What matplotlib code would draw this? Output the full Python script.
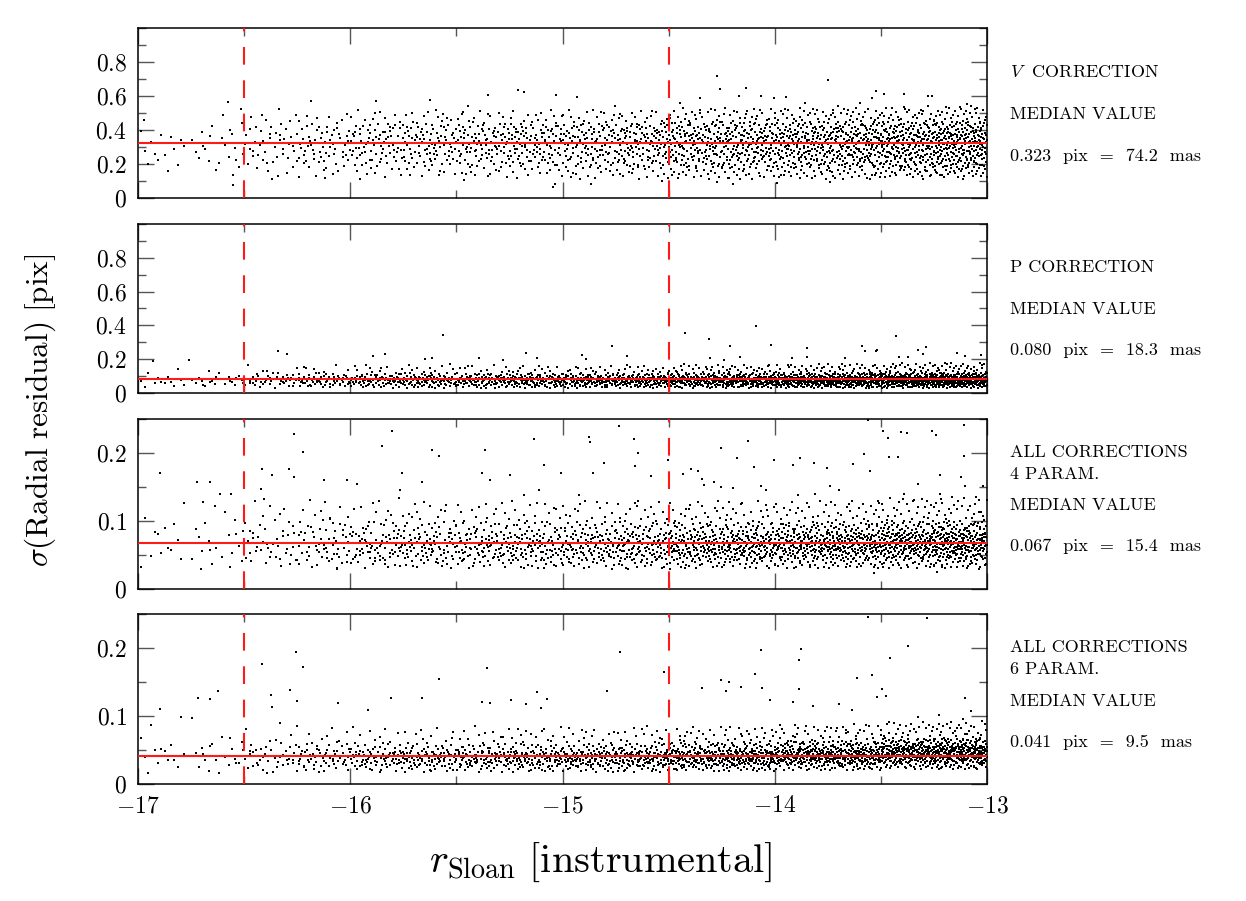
import numpy as np
import matplotlib
matplotlib.use('Agg')
import matplotlib.pyplot as plt
from matplotlib.ticker import MultipleLocator, FixedLocator, FuncFormatter

plt.rcParams['mathtext.fontset'] = 'cm'
plt.rcParams['font.family'] = ['cmr10', 'DejaVu Serif']
plt.rcParams['axes.formatter.use_mathtext'] = True

# ---- data ----
# the same stars appear in all four panels; 0.25 mag bins from -17 to -13
bin_left = [-17.0, -16.75, -16.5, -16.25, -16.0, -15.75, -15.5, -15.25,
            -15.0, -14.75, -14.5, -14.25, -14.0, -13.75, -13.5, -13.25]
star_counts = [14, 22, 45, 70, 90, 105, 115, 125, 135, 150, 185, 200, 215, 235, 260, 290]

# spread of the dense band, per 0.5 mag bin, at these fractions of the stars
q_levels = [0.0, 0.1, 0.25, 0.5, 0.75, 0.9, 1.0]

v_band = [[0.14, 0.19, 0.23, 0.29, 0.35, 0.40, 0.46],
          [0.12, 0.19, 0.24, 0.31, 0.38, 0.43, 0.50],
          [0.12, 0.19, 0.25, 0.32, 0.39, 0.44, 0.52],
          [0.12, 0.19, 0.25, 0.32, 0.39, 0.44, 0.52],
          [0.11, 0.18, 0.24, 0.32, 0.39, 0.44, 0.52],
          [0.11, 0.18, 0.24, 0.32, 0.39, 0.45, 0.53],
          [0.11, 0.18, 0.24, 0.32, 0.39, 0.45, 0.53],
          [0.12, 0.18, 0.24, 0.32, 0.39, 0.45, 0.54]]
p_band = [[0.035, 0.046, 0.058, 0.072, 0.090, 0.110, 0.150],
          [0.032, 0.046, 0.060, 0.077, 0.095, 0.118, 0.170],
          [0.030, 0.045, 0.060, 0.078, 0.095, 0.118, 0.170],
          [0.030, 0.045, 0.060, 0.078, 0.094, 0.115, 0.165],
          [0.030, 0.045, 0.060, 0.078, 0.094, 0.115, 0.165],
          [0.030, 0.045, 0.060, 0.078, 0.095, 0.118, 0.170],
          [0.030, 0.045, 0.060, 0.078, 0.095, 0.118, 0.175],
          [0.030, 0.046, 0.061, 0.079, 0.096, 0.120, 0.180]]
a4_band = [[0.030, 0.042, 0.054, 0.070, 0.090, 0.110, 0.135],
           [0.030, 0.042, 0.053, 0.068, 0.087, 0.105, 0.135],
           [0.030, 0.042, 0.052, 0.066, 0.083, 0.100, 0.130],
           [0.030, 0.042, 0.052, 0.066, 0.082, 0.100, 0.130],
           [0.030, 0.042, 0.052, 0.066, 0.082, 0.100, 0.130],
           [0.030, 0.043, 0.053, 0.066, 0.081, 0.098, 0.130],
           [0.030, 0.044, 0.055, 0.067, 0.081, 0.097, 0.130],
           [0.030, 0.045, 0.056, 0.069, 0.083, 0.100, 0.135]]
a6_band = [[0.015, 0.025, 0.032, 0.042, 0.055, 0.070, 0.100],
           [0.016, 0.025, 0.032, 0.041, 0.051, 0.064, 0.090],
           [0.017, 0.026, 0.032, 0.040, 0.048, 0.060, 0.085],
           [0.017, 0.026, 0.032, 0.040, 0.048, 0.060, 0.085],
           [0.017, 0.026, 0.032, 0.040, 0.048, 0.060, 0.085],
           [0.018, 0.027, 0.033, 0.041, 0.049, 0.061, 0.085],
           [0.020, 0.029, 0.035, 0.043, 0.052, 0.063, 0.088],
           [0.022, 0.031, 0.038, 0.047, 0.056, 0.067, 0.092]]

# isolated stars outside the band (magnitude, sigma)
v_out = [(-14.272, 0.718), (-13.749, 0.694), (-14.260, 0.639), (-14.134, 0.645),
         (-15.209, 0.637), (-15.181, 0.625), (-15.030, 0.606), (-15.351, 0.604),
         (-13.523, 0.629), (-13.389, 0.610), (-13.484, 0.614), (-14.930, 0.594),
         (-14.170, 0.600), (-13.276, 0.600), (-13.258, 0.600), (-13.543, 0.588),
         (-14.352, 0.590), (-14.065, 0.600), (-14.005, 0.590), (-13.946, 0.594),
         (-15.623, 0.578), (-15.877, 0.569), (-16.187, 0.571), (-16.578, 0.563),
         (-15.443, 0.543), (-16.334, 0.525), (-16.513, 0.521), (-16.601, 0.486),
         (-16.418, 0.490), (-16.973, 0.459), (-13.703, 0.541), (-13.094, 0.555),
         (-13.857, 0.557), (-13.600, 0.557), (-14.447, 0.557), (-14.755, 0.539),
         (-16.552, 0.074), (-16.552, 0.135), (-15.045, 0.063), (-15.035, 0.082),
         (-14.868, 0.084), (-13.990, 0.086), (-13.739, 0.096), (-16.370, 0.112),
         (-16.121, 0.116), (-15.954, 0.112), (-15.463, 0.106), (-14.532, 0.100),
         (-13.112, 0.114), (-13.300, 0.110), (-14.270, 0.096), (-14.198, 0.082)]
p_out = [(-15.564, 0.343), (-14.088, 0.397), (-14.421, 0.357), (-14.311, 0.320),
         (-13.431, 0.337), (-14.765, 0.278), (-14.016, 0.284), (-14.211, 0.278),
         (-13.849, 0.268), (-16.339, 0.249), (-16.300, 0.233), (-13.323, 0.255),
         (-13.287, 0.274), (-13.302, 0.229), (-13.574, 0.249), (-13.518, 0.255),
         (-13.143, 0.239), (-13.104, 0.219), (-14.696, 0.219), (-14.909, 0.227),
         (-14.889, 0.199), (-15.171, 0.237), (-15.836, 0.233), (-15.892, 0.217),
         (-14.165, 0.213), (-13.921, 0.205), (-13.849, 0.215), (-13.669, 0.207),
         (-13.413, 0.211), (-13.372, 0.211), (-14.306, 0.209), (-14.237, 0.197),
         (-16.760, 0.195), (-15.615, 0.209), (-15.648, 0.201), (-15.394, 0.207),
         (-15.281, 0.195), (-13.027, 0.227), (-16.929, 0.190), (-15.122, 0.207),
         (-13.587, 0.278), (-13.523, 0.251)]
a4_out = [(-13.561, 0.248), (-13.110, 0.241), (-14.735, 0.239), (-15.802, 0.233),
          (-16.267, 0.228), (-13.489, 0.233), (-13.466, 0.222), (-13.407, 0.231),
          (-13.377, 0.229), (-13.261, 0.232), (-13.241, 0.226), (-15.135, 0.221),
          (-14.873, 0.223), (-14.871, 0.216), (-14.665, 0.221), (-14.124, 0.218),
          (-15.851, 0.210), (-15.615, 0.204), (-15.584, 0.195), (-15.363, 0.205),
          (-14.252, 0.207), (-14.180, 0.192), (-13.579, 0.198), (-13.464, 0.194),
          (-13.420, 0.194), (-13.107, 0.195), (-14.645, 0.200), (-14.503, 0.189),
          (-16.223, 0.202), (-15.089, 0.183), (-14.806, 0.186), (-14.660, 0.181),
          (-14.396, 0.176), (-14.362, 0.174), (-14.434, 0.169), (-14.344, 0.162),
          (-14.332, 0.153), (-14.288, 0.157), (-14.255, 0.150), (-14.195, 0.149),
          (-14.098, 0.179), (-14.005, 0.189), (-13.913, 0.182), (-13.882, 0.193),
          (-13.815, 0.185), (-13.756, 0.178), (-13.810, 0.140), (-13.890, 0.138),
          (-14.041, 0.146), (-14.067, 0.152), (-13.741, 0.151), (-13.697, 0.146),
          (-13.631, 0.184), (-13.551, 0.174), (-13.220, 0.167), (-13.123, 0.165),
          (-13.102, 0.151), (-13.020, 0.152), (-13.053, 0.136), (-13.223, 0.140),
          (-13.325, 0.154), (-13.392, 0.140), (-13.515, 0.130), (-16.898, 0.170),
          (-16.724, 0.158), (-16.662, 0.157), (-16.616, 0.140), (-16.562, 0.140),
          (-16.418, 0.176), (-16.287, 0.176), (-16.267, 0.164), (-16.370, 0.167),
          (-16.421, 0.147), (-16.406, 0.133), (-16.123, 0.160), (-16.013, 0.160),
          (-15.967, 0.154), (-15.754, 0.170), (-15.661, 0.158), (-15.764, 0.146),
          (-15.772, 0.134), (-15.379, 0.171), (-15.340, 0.161), (-15.248, 0.168),
          (-15.181, 0.138), (-15.109, 0.145), (-15.009, 0.170), (-14.924, 0.138),
          (-14.858, 0.171), (-14.642, 0.129), (-14.583, 0.166), (-16.701, 0.029),
          (-13.533, 0.024), (-13.236, 0.025), (-15.086, 0.031), (-14.691, 0.029),
          (-16.064, 0.029)]
a6_out = [(-13.561, 0.246), (-13.284, 0.244), (-13.374, 0.203), (-14.067, 0.197),
          (-13.877, 0.199), (-13.887, 0.182), (-13.459, 0.186), (-14.729, 0.194),
          (-16.257, 0.194), (-16.418, 0.176), (-16.223, 0.172), (-15.358, 0.170),
          (-14.521, 0.165), (-14.093, 0.162), (-13.543, 0.160), (-13.613, 0.156),
          (-15.582, 0.155), (-14.254, 0.153), (-14.216, 0.150), (-14.344, 0.141),
          (-14.229, 0.137), (-14.157, 0.142), (-14.062, 0.141), (-13.887, 0.140),
          (-13.495, 0.140), (-13.518, 0.128), (-13.477, 0.130), (-13.104, 0.127),
          (-14.791, 0.137), (-15.120, 0.135), (-15.099, 0.112), (-15.073, 0.125),
          (-15.171, 0.118), (-15.243, 0.124), (-15.381, 0.121), (-15.340, 0.119),
          (-15.661, 0.126), (-15.808, 0.126), (-16.059, 0.119), (-15.918, 0.109),
          (-16.372, 0.131), (-16.285, 0.138), (-16.624, 0.137), (-16.719, 0.126),
          (-16.662, 0.125), (-16.896, 0.110), (-16.370, 0.113), (-16.249, 0.122),
          (-14.021, 0.123), (-13.916, 0.121), (-13.818, 0.114), (-13.697, 0.118),
          (-13.636, 0.109), (-13.074, 0.107), (-13.112, 0.096), (-13.323, 0.099),
          (-13.225, 0.102)]

medians = [0.323, 0.080, 0.067, 0.041]
panel_labels = [[r'$V\ $ CORRECTION', 'MEDIAN VALUE', '0.323  pix  =  74.2  mas'],
                ['P CORRECTION', 'MEDIAN VALUE', '0.080  pix  =  18.3  mas'],
                ['ALL CORRECTIONS', '4 PARAM.', 'MEDIAN VALUE', '0.067  pix  =  15.4  mas'],
                ['ALL CORRECTIONS', '6 PARAM.', 'MEDIAN VALUE', '0.041  pix  =  9.5  mas']]
label_offsets = [[44, 86, 128], [43, 85, 126], [33, 55, 86, 127], [33, 55, 87, 128]]
ylims = [1.0, 1.0, 0.25, 0.25]
bands = [v_band, p_band, a4_band, a6_band]
outliers = [v_out, p_out, a4_out, a6_out]
cuts = [-16.5, -14.5]


def radical_inverse(k, base):
    r, f = 0.0, 1.0
    while k > 0:
        f /= base
        r += f * (k % base)
        k //= base
    return r


def band_points(band, panel):
    xs, ys = [], []
    for i, (x0, n) in enumerate(zip(bin_left, star_counts)):
        start = 1 + 409 * i
        ux = np.array([radical_inverse(start + m, 2) for m in range(n)])
        uy = np.array([radical_inverse(start + m + 131 * panel, 3) for m in range(n)])
        xs.append(x0 + 0.25 * ux)
        ys.append(np.interp(uy, q_levels, band[i // 2]))
    return np.concatenate(xs), np.concatenate(ys)


fig = plt.figure(figsize=(12.46, 9.01), dpi=100)
# panel rectangles in figure pixels (top, bottom)
rows = [(28, 198), (224, 393), (419, 589), (614, 784)]
W, H = 1246.0, 901.0

for j, (top, bot) in enumerate(rows):
    ax = fig.add_axes([138 / W, 1 - bot / H, (987 - 138) / W, (bot - top) / H])
    bx, by = band_points(bands[j], j)
    ox = [p[0] for p in outliers[j]]
    oy = [p[1] for p in outliers[j]]
    ax.scatter(bx, by, s=2.3, marker='s', c='black', linewidths=0, zorder=2)
    ax.scatter(ox, oy, s=2.3, marker='s', c='black', linewidths=0, zorder=2)
    ax.axhline(medians[j], color='#ff1a1a', lw=1.5, zorder=3)
    for c in cuts:
        ax.axvline(c, color='#ff1a1a', lw=1.5, dashes=(8.5, 7.5), zorder=3)

    ax.set_xlim(-17, -13)
    ax.set_ylim(0, ylims[j])
    ax.xaxis.set_major_locator(MultipleLocator(1))
    ax.xaxis.set_minor_locator(MultipleLocator(0.5))
    if ylims[j] > 0.5:
        ax.yaxis.set_major_locator(FixedLocator([0, 0.2, 0.4, 0.6, 0.8]))
        ax.yaxis.set_minor_locator(MultipleLocator(0.1))
    else:
        ax.yaxis.set_major_locator(FixedLocator([0, 0.1, 0.2]))
        ax.yaxis.set_minor_locator(MultipleLocator(0.05))
    ax.yaxis.set_major_formatter(FuncFormatter(lambda v, p: '$%g$' % round(v, 3)))
    if j == 3:
        ax.xaxis.set_major_formatter(FuncFormatter(lambda v, p: '$%g$' % v))
    else:
        ax.set_xticklabels([])
    ax.tick_params(which='both', direction='in', top=True, right=True,
                   labelsize=17, pad=8, color='#555555')
    ax.tick_params(which='major', length=11.5, width=1)
    ax.tick_params(which='minor', length=5.8, width=1)
    for sp in ax.spines.values():
        sp.set_linewidth(1.1)

    for txt, off in zip(panel_labels[j], label_offsets[j]):
        ax.text((1010 - 138) / (987 - 138), 1 - off / (bot - top), txt,
                transform=ax.transAxes, fontsize=13, va='center', ha='left')

fig.text(601 / W, 1 - 862 / H, r'$r_{\rm Sloan}\ [\mathrm{instrumental}]$',
         fontsize=29, ha='center', va='center')
fig.text(40 / W, 1 - 410 / H, r'$\sigma(\mathrm{Radial\ residual})\ [\mathrm{pix}]$',
         fontsize=22.5, ha='center', va='center', rotation=90)

fig.savefig('out.png', dpi=100)
